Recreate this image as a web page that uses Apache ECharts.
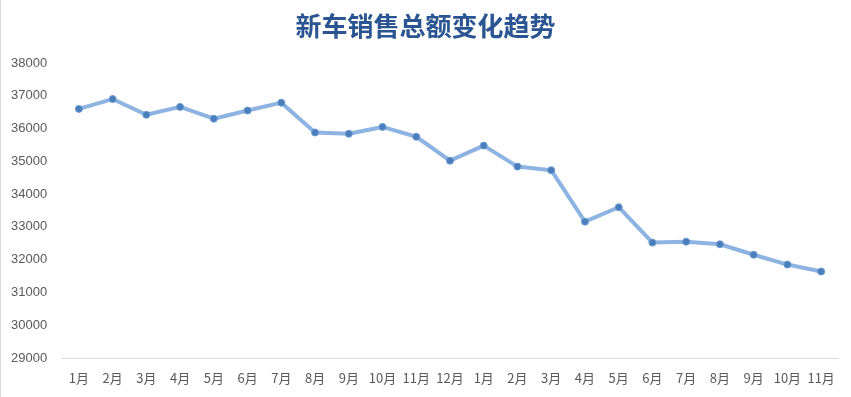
<!DOCTYPE html>
<html>
<head>
<meta charset="utf-8">
<script src="https://cdn.jsdelivr.net/npm/echarts@6/dist/echarts.min.js"></script>
<style>html,body{margin:0;padding:0;background:#fff;}#c{width:851px;height:397px;}</style>
</head>
<body>
<div id="c"></div>
<script>
const categories = ['1月','2月','3月','4月','5月','6月','7月','8月','9月','10月','11月','12月','1月','2月','3月','4月','5月','6月','7月','8月','9月','10月','11月'];
const salesTotal = [36600,36900,36420,36660,36300,36550,36790,35880,35840,36050,35750,35020,35480,34840,34730,33160,33600,32520,32550,32470,32150,31850,31640];
const yMin = 29000, yMax = 38000, yStep = 1000;
const titleText = '新车销售总额变化趋势';

const chart = echarts.init(document.getElementById('c'), null, {renderer:'canvas'});
chart.setOption({
  animation:false,
  backgroundColor:'#fff',
  title:{
    text:titleText, left:'center', top:8,
    textStyle:{fontFamily:'"Noto Sans CJK SC"', fontSize:26, fontWeight:'bold', color:'#2a5592'}
  },
  graphic:[{type:'line', shape:{x1:0.5,y1:0,x2:0.5,y2:397}, style:{stroke:'#d9d9d9', lineWidth:1}}],
  grid:{left:62, right:13, top:63, bottom:39},
  xAxis:{
    type:'category', data:categories, boundaryGap:true,
    axisLine:{lineStyle:{color:'#d9d9d9', width:1}},
    axisTick:{show:false},
    axisLabel:{color:'#595959', fontSize:13, fontFamily:'"Noto Sans CJK SC"', margin:14, interval:0}
  },
  yAxis:{
    type:'value', min:yMin, max:yMax, interval:yStep,
    axisLine:{show:false}, axisTick:{show:false}, splitLine:{show:false},
    axisLabel:{color:'#595959', fontSize:13, fontFamily:'"Liberation Sans", Arial', align:'left', margin:51,
      formatter:function(v){return String(v);}}
  },
  series:[{
    type:'line', data:salesTotal,
    lineStyle:{color:'#8db3e2', width:4},
    symbol:'circle', symbolSize:7,
    itemStyle:{color:'#4a7ebb', borderColor:'#6d9bd3', borderWidth:1}
  }]
});
</script>
</body>
</html>
